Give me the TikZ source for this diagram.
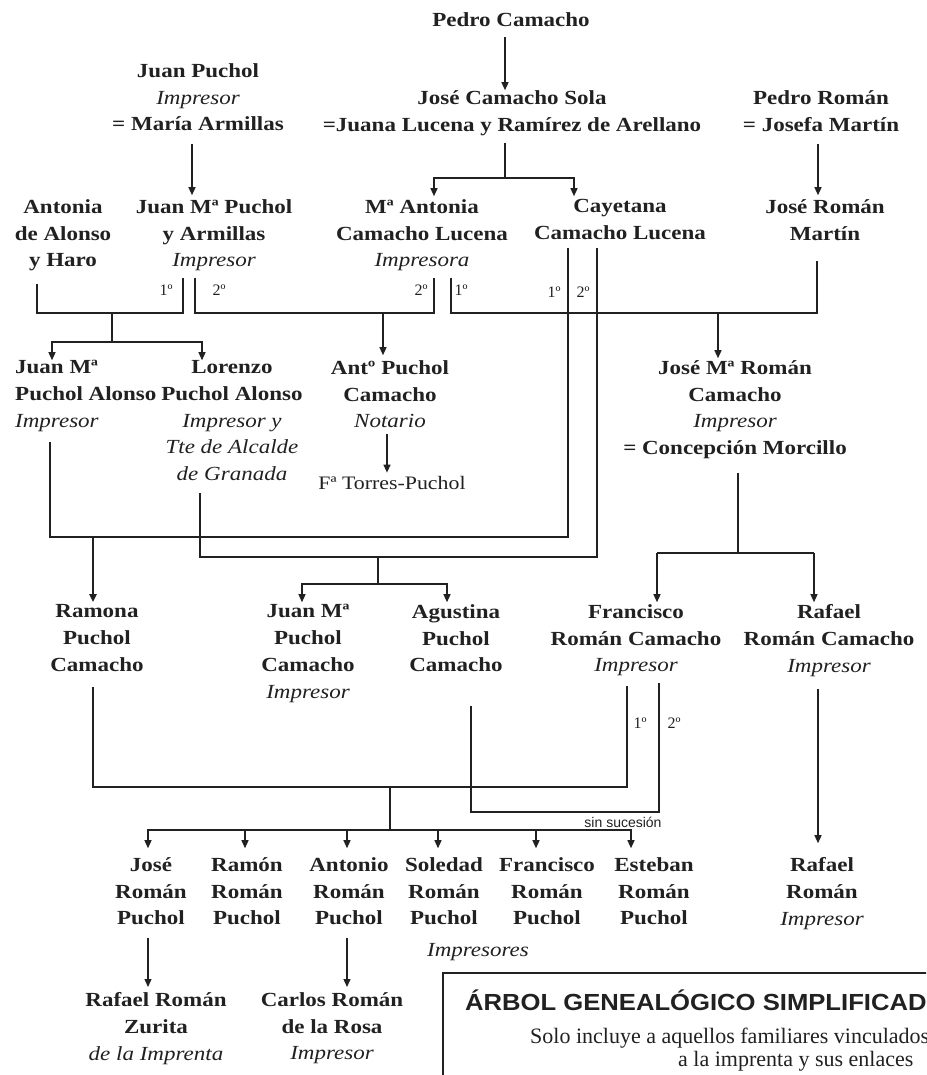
\documentclass[tikz,border=0pt]{standalone}
\usepackage{fontspec}
\setmainfont{Liberation Serif}[FakeStretch=1.15]
\newfontfamily\plainserif{Liberation Serif}
\newfontfamily\titlesans{Liberation Sans}[FakeStretch=1.1]
\newfontfamily\notesans{Liberation Sans}
\usetikzlibrary{arrows.meta}
\definecolor{ink}{gray}{0.13}
\newcommand{\occup}[1]{{\mdseries\itshape #1}}
\begin{document}
\begin{tikzpicture}[x=1pt,y=-1pt,
  person/.style={font=\fontsize{20}{26.8}\selectfont\bfseries, text=ink, align=center,
    inner sep=0pt, anchor=north, yshift=12.8pt,
    execute at begin node=\strut, execute at end node=\strut},
  lbl/.style={font=\plainserif\fontsize{16}{17}\selectfont, text=ink, inner sep=0pt},
  ln/.style={line width=1.3pt, draw=ink},
  lnb/.style={line width=2.8pt, draw=ink},
  arr/.style={ln, -{Triangle[length=8pt,width=7pt]}},
  arrb/.style={lnb, -{Triangle[length=8pt,width=7pt]}}]
\useasboundingbox (0,0) rectangle (926,1075);
\fill[white] (0,0) rectangle (926,1075);
\clip (0,0) rectangle (926,1075);

% ---------- people ----------
\node[person] (pedro) at (511,20) {Pedro Camacho};
\node[person] (juanp) at (198,76) {Juan Puchol\\\occup{Impresor}\\= María Armillas};
\node[person] (jose) at (512,103) {José Camacho Sola\\=Juana Lucena y Ramírez de Arellano};
\node[person] (pedror) at (821,103) {Pedro Román\\= Josefa Martín};

\node[person] (antonia) at (63,212) {Antonia\\de Alonso\\y Haro};
\node[person] (juanm) at (214,212) {Juan Mª Puchol\\y Armillas\\\occup{Impresor}};
\node[person] (mantonia) at (422,212) {Mª Antonia\\Camacho Lucena\\\occup{Impresora}};
\node[person] (cayetana) at (620,212) {Cayetana\\Camacho Lucena};
\node[person] (joser) at (825,212) {José Román\\Martín};

\node[person, anchor=north west, align=left] (juanma) at (15,373) {Juan Mª\\Puchol Alonso\\\occup{Impresor}};
\node[person] (lorenzo) at (232,373) {Lorenzo\\Puchol Alonso\\\occup{Impresor y}\\\occup{Tte de Alcalde}\\\occup{de Granada}};
\node[person] (antonio) at (390,373) {Antº Puchol\\Camacho\\\occup{Notario}};
\node[font=\fontsize{19}{22}\selectfont, text=ink, inner sep=0pt, anchor=base] (torres) at (392,489) {Fª Torres-Puchol};
\node[person] (josem) at (735,373) {José Mª Román\\Camacho\\\occup{Impresor}\\= Concepción Morcillo};

\node[person] (ramona) at (97,617) {Ramona\\Puchol\\Camacho};
\node[person] (juanmpc) at (308,617) {Juan Mª\\Puchol\\Camacho\\\occup{Impresor}};
\node[person] (agustina) at (456,617) {Agustina\\Puchol\\Camacho};
\node[person] (francisco) at (636,617) {Francisco\\Román Camacho\\\occup{Impresor}};
\node[person] (rafael) at (829,617) {Rafael\\Román Camacho\\\occup{Impresor}};

\node[person] (josrp) at (151,870) {José\\Román\\Puchol};
\node[person] (ramon) at (247,870) {Ramón\\Román\\Puchol};
\node[person] (antonior) at (349,870) {Antonio\\Román\\Puchol};
\node[person] (soledad) at (444,870) {Soledad\\Román\\Puchol};
\node[person] (franciscor) at (547,870) {Francisco\\Román\\Puchol};
\node[person] (esteban) at (654,870) {Esteban\\Román\\Puchol};
\node[person] (impresores) at (478,950) {\occup{Impresores}};
\node[person] (rafaelr) at (822,870) {Rafael\\Román\\\occup{Impresor}};

\node[person] (rafaelz) at (156,1005) {Rafael Román\\Zurita\\\occup{de la Imprenta}};
\node[person] (carlos) at (332,1005) {Carlos Román\\de la Rosa\\\occup{Impresor}};

% ---------- junction points ----------
\coordinate (jc) at (505,178);
\coordinate (m1) at (112,313);
\coordinate (c1) at (112,342);
\coordinate (m2) at (383,313);
\coordinate (m3) at (718,313);
\coordinate (k1) at (93,537);
\coordinate (k2) at (378,557);
\coordinate (k3) at (378,584);
\coordinate (k4) at (738,553);
\coordinate (k5) at (390,787);
\coordinate (k6) at (659,812);
\coordinate (k7) at (390,830);

% ---------- generation 1-2 ----------
\draw[arr, shorten <=3pt] (pedro.south -| 505,0) -- (jose.north -| 505,0);
\draw[arr, shorten <=4.4pt, shorten >=4pt] (juanp.south -| 192,0) -- (juanm.north -| 192,0);
\draw[ln, shorten <=3.2pt] (jose.south -| jc) -- (jc);
\draw[arr, shorten >=3pt] (jc) -| (mantonia.north -| 434,0);
\draw[arr, shorten >=3pt] (jc) -| (cayetana.north -| 574,0);
\draw[arr, shorten <=4.2pt, shorten >=4pt] (pedror.south -| 818,0) -- (joser.north -| 818,0);

% ---------- marriages of generation 2 ----------
\draw[ln, shorten <=8.4pt, shorten >=2.4pt] (antonia.south -| 37,0) |- (m1) -| (juanm.south -| 183,0);
\draw[ln, shorten <=2.4pt, shorten >=2.4pt] (juanm.south -| 195,0) |- (m2) -| (mantonia.south -| 434,0);
\draw[ln, shorten <=2.4pt, shorten >=12.2pt] (mantonia.south -| 451,0) |- (m3) -| (joser.south -| 817,0);

\draw[ln] (m1) -- (c1);
\draw[arr] (c1) -| (juanma.north -| 52,0);
\draw[arr] (c1) -| (lorenzo.north -| 202,0);
\draw[arr, shorten >=5pt] (m2) -- (antonio.north -| m2);
\draw[arr, shorten >=2pt] (m3) -- (josem.north -| m3);
\draw[arr, shorten <=-2pt, shorten >=3pt] (antonio.south -| 387,0) -- (torres.north -| 387,0);

\node[lbl] (l1a) at (166,290) {1º};
\node[lbl] (l2a) at (219,290) {2º};
\node[lbl] (l2b) at (421,290) {2º};
\node[lbl] (l1b) at (461,290) {1º};
\node[lbl] (l1c) at (554,292) {1º};
\node[lbl] (l2c) at (583,292) {2º};

% ---------- Cayetana's two marriages ----------
\draw[lnb, shorten >=6.4pt] (cayetana.south -| 568,0) |- (k1) -| (juanma.south -| 50,0);
\draw[arrb, shorten >=2pt] (k1) -- (ramona.north -| k1);
\draw[ln, shorten >=3.8pt] (cayetana.south -| 597,0) |- (k2) -| (lorenzo.south -| 200,0);
\draw[ln] (k2) -- (k3);
\draw[arr, shorten >=2pt] (k3) -| (juanmpc.north -| 302,0);
\draw[arr, shorten >=2pt] (k3) -| (agustina.north -| 447,0);

% ---------- José Mª Román's children ----------
\draw[ln, shorten <=9.6pt] (josem.south -| k4) -- (k4);
\draw[ln] (k4 -| 657,0) -- (k4 -| 814,0);
\draw[arr, shorten >=2pt] (k4 -| 657,0) -- (francisco.north -| 657,0);
\draw[arr, shorten >=2pt] (k4 -| 814,0) -- (rafael.north -| 814,0);

% ---------- Francisco's marriages ----------
\draw[lnb, shorten <=7.4pt, shorten >=5.4pt] (ramona.south -| 93,0) |- (k5) -| (francisco.south -| 627,0);
\draw[ln, shorten <=25.4pt, shorten >=2.4pt] (agustina.south -| 471,0) |- (k6) -- (francisco.south -| k6);
\node[lbl] (l1d) at (640,723) {1º};
\node[lbl] (l2d) at (674,723) {2º};
\node[font=\notesans\fontsize{14}{15}\selectfont, text=ink, inner sep=0pt] (sinsuc) at (623,822) {sin sucesión};

\draw[lnb] (k5) -- (k7);
\draw[lnb] (k7 -| 147,0) -- (k7 -| 632,0);
\draw[arr, shorten >=9pt] (k7 -| 148,0) -- (josrp.north -| 148,0);
\draw[arr, shorten >=9pt] (k7 -| 245,0) -- (ramon.north -| 245,0);
\draw[arr, shorten >=9pt] (k7 -| 347,0) -- (antonior.north -| 347,0);
\draw[arr, shorten >=9pt] (k7 -| 438,0) -- (soledad.north -| 438,0);
\draw[arr, shorten >=9pt] (k7 -| 536,0) -- (franciscor.north -| 536,0);
\draw[arr, shorten >=9pt] (k7 -| 631,0) -- (esteban.north -| 631,0);

\draw[arr, shorten <=8.4pt, shorten >=14pt] (rafael.south -| 818,0) -- (rafaelr.north -| 818,0);

\draw[arr, shorten <=4.4pt, shorten >=5.2pt] (josrp.south -| 148,0) -- (rafaelz.north -| 148,0);
\draw[arr, shorten <=4.4pt, shorten >=5.2pt] (antonior.south -| 347,0) -- (carlos.north -| 347,0);

% ---------- legend box ----------
\draw[line width=1.4pt, draw=ink] (443,973) rectangle (1000,1110);
\node[font=\titlesans\fontsize{23.3}{28}\selectfont\bfseries, text=ink, inner sep=0pt, anchor=base west] (title) at (465,1010) {ÁRBOL GENEALÓGICO SIMPLIFICADO};
\node[font=\plainserif\fontsize{22}{26}\selectfont, text=ink, inner sep=0pt, anchor=base west] (sub1) at (530,1043) {Solo incluye a aquellos familiares vinculados};
\node[font=\plainserif\fontsize{22}{26}\selectfont, text=ink, inner sep=0pt, anchor=base west] (sub2) at (678,1066) {a la imprenta y sus enlaces};
\end{tikzpicture}
\end{document}
